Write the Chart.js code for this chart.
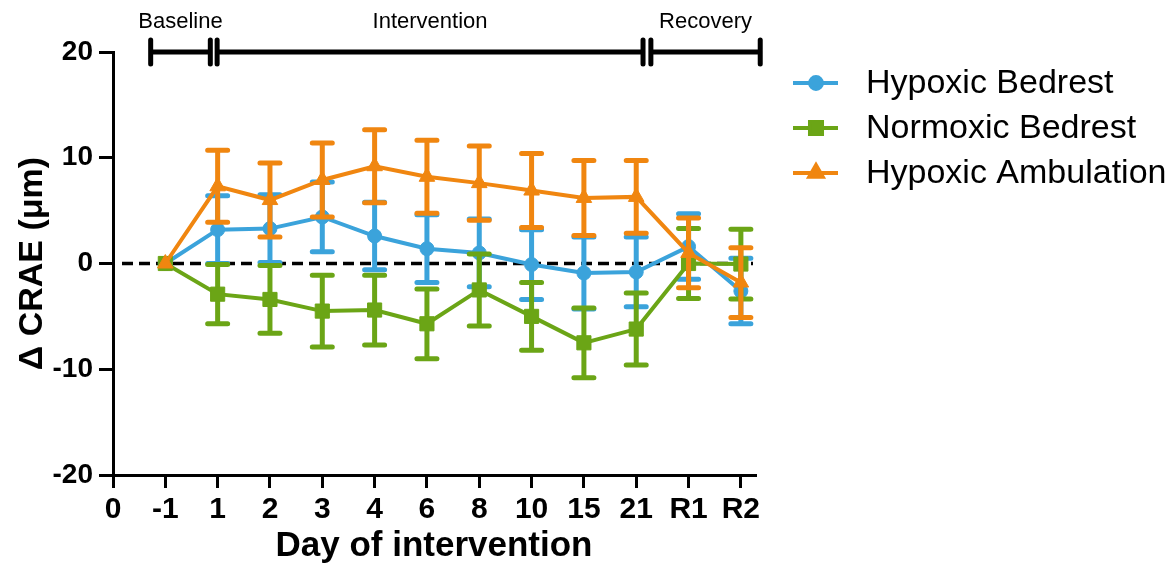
<!DOCTYPE html>
<html>
<head>
<meta charset="utf-8">
<script src="https://cdn.jsdelivr.net/npm/chart.js@4.4.1/dist/chart.umd.min.js"></script>
<style>
  html, body { margin: 0; padding: 0; background: #fff; }
  #wrap { width: 1173px; height: 574px; }
</style>
</head>
<body>
<div id="wrap"><canvas id="craeChart" width="1173" height="574"></canvas></div>
<script>
// x positions 0..12; position 0 is just the axis origin
const dayLabels = ['0', '-1', '1', '2', '3', '4', '6', '8', '10', '15', '21', 'R1', 'R2'];
const dayIndex = [1, 2, 3, 4, 5, 6, 7, 8, 9, 10, 11, 12];

// mean change from baseline and SEM, one entry per day in dayIndex
const hypoxicBedrest       = [0, 3.2, 3.3, 4.4, 2.6, 1.4, 1.0, -0.1, -0.9, -0.8, 1.6, -2.6];
const hypoxicBedrestSem    = [0, 3.2, 3.2, 3.3, 3.2, 3.2, 3.2, 3.3, 3.4, 3.3, 3.1, 3.1];
const normoxicBedrest      = [0, -2.9, -3.4, -4.5, -4.4, -5.7, -2.5, -5.0, -7.5, -6.2, 0.0, -0.05];
const normoxicBedrestSem   = [0, 2.8, 3.2, 3.4, 3.3, 3.3, 3.4, 3.2, 3.3, 3.4, 3.3, 3.3];
const hypoxicAmbulation    = [0, 7.3, 6.0, 7.9, 9.2, 8.2, 7.6, 6.9, 6.2, 6.3, 1.0, -1.8];
const hypoxicAmbulationSem = [0, 3.4, 3.5, 3.5, 3.45, 3.45, 3.5, 3.5, 3.55, 3.45, 3.3, 3.3];

const yTicks = [-20, -10, 0, 10, 20];

// study phases along the top, in x-axis units
const phaseNames = ['Baseline', 'Intervention', 'Recovery'];
const phaseStart = [0.72, 1.99, 10.28];
const phaseEnd   = [1.86, 10.13, 12.37];

const FONT = "'Liberation Sans', Arial, sans-serif";
const BLUE = '#3ba3db';
const GREEN = '#6ba516';
const ORANGE = '#f08610';

function points(values) {
    return values.map((v, i) => ({x: dayIndex[i], y: v}));
}

const errorBars = {
    id: 'errorBars',
    beforeDatasetDraw(chart, args) {
        const ds = chart.data.datasets[args.index];
        if (!ds.sem) return;
        const ctx = chart.ctx;
        const xs = chart.scales.x, ys = chart.scales.y;
        ctx.save();
        ctx.strokeStyle = ds.borderColor;
        ctx.lineWidth = 5;
        ctx.lineCap = 'round';
        ds.data.forEach((p, i) => {
            const e = ds.sem[i];
            if (!e) return;
            const px = xs.getPixelForValue(p.x);
            const top = ys.getPixelForValue(p.y + e);
            const bot = ys.getPixelForValue(p.y - e);
            ctx.beginPath();
            ctx.moveTo(px, top); ctx.lineTo(px, bot);
            ctx.moveTo(px - 10, top); ctx.lineTo(px + 10, top);
            ctx.moveTo(px - 10, bot); ctx.lineTo(px + 10, bot);
            ctx.stroke();
        });
        ctx.restore();
    }
};

const zeroLine = {
    id: 'zeroLine',
    beforeDatasetsDraw(chart) {
        const ctx = chart.ctx;
        const area = chart.chartArea;
        const y0 = chart.scales.y.getPixelForValue(0);
        ctx.save();
        ctx.strokeStyle = '#000';
        ctx.lineWidth = 3.5;
        ctx.setLineDash([11, 6]);
        ctx.beginPath();
        ctx.moveTo(area.left + 9, y0);
        ctx.lineTo(area.right - 2, y0);
        ctx.stroke();
        ctx.restore();
    }
};

const phaseBars = {
    id: 'phaseBars',
    afterDraw(chart) {
        const ctx = chart.ctx;
        const xs = chart.scales.x;
        const yb = chart.scales.y.getPixelForValue(20);
        ctx.save();
        ctx.strokeStyle = '#000';
        ctx.fillStyle = '#000';
        ctx.lineWidth = 5;
        ctx.lineCap = 'round';
        ctx.font = '22px ' + FONT;
        ctx.textAlign = 'center';
        ctx.textBaseline = 'middle';
        phaseNames.forEach((name, i) => {
            const a = xs.getPixelForValue(phaseStart[i]);
            const b = xs.getPixelForValue(phaseEnd[i]);
            ctx.beginPath();
            ctx.moveTo(a, yb); ctx.lineTo(b, yb);
            ctx.moveTo(a, yb - 12); ctx.lineTo(a, yb + 12);
            ctx.moveTo(b, yb - 12); ctx.lineTo(b, yb + 12);
            ctx.stroke();
            ctx.fillText(name, (a + b) / 2, yb - 30);
        });
        ctx.restore();
    }
};

const sideLegend = {
    id: 'sideLegend',
    afterDraw(chart) {
        const ctx = chart.ctx;
        const x0 = chart.chartArea.right + 38;
        ctx.save();
        chart.data.datasets.forEach((ds, i) => {
            const y = 83 + i * 45;
            ctx.strokeStyle = ds.borderColor;
            ctx.fillStyle = ds.borderColor;
            ctx.lineWidth = 4;
            ctx.beginPath();
            ctx.moveTo(x0, y); ctx.lineTo(x0 + 45, y);
            ctx.stroke();
            Chart.helpers.drawPoint(ctx, {
                pointStyle: ds.pointStyle, radius: ds.pointRadius * 0.85, rotation: 0, borderWidth: 1
            }, x0 + 23, y);
            ctx.fillStyle = '#000';
            ctx.font = '34px ' + FONT;
            ctx.textAlign = 'left';
            ctx.textBaseline = 'middle';
            ctx.fillText(ds.label, x0 + 73, y + 1);
        });
        ctx.restore();
    }
};

function series(label, values, sem, color, style, radius, order) {
    return {
        label: label,
        data: points(values),
        sem: sem,
        borderColor: color,
        backgroundColor: color,
        pointBackgroundColor: color,
        pointBorderColor: color,
        pointBorderWidth: 1,
        pointStyle: style,
        pointRadius: radius,
        borderWidth: 4,
        tension: 0,
        clip: false,
        order: order
    };
}

new Chart(document.getElementById('craeChart').getContext('2d'), {
    type: 'line',
    data: {
        datasets: [
            series('Hypoxic Bedrest', hypoxicBedrest, hypoxicBedrestSem, BLUE, 'circle', 7, 3),
            series('Normoxic Bedrest', normoxicBedrest, normoxicBedrestSem, GREEN, 'rect', 10, 2),
            series('Hypoxic Ambulation', hypoxicAmbulation, hypoxicAmbulationSem, ORANGE, 'triangle', 9, 1)
        ]
    },
    options: {
        responsive: false,
        animation: false,
        layout: {padding: {top: 52, right: 418, left: 0, bottom: 0}},
        plugins: {legend: {display: false}, tooltip: {enabled: false}},
        scales: {
            x: {
                type: 'linear',
                min: 0,
                max: 12.27,
                afterBuildTicks: s => { s.ticks = dayLabels.map((_, i) => ({value: i})); },
                afterFit: s => { s.height = 99; },
                ticks: {
                    includeBounds: false,
                    callback: v => dayLabels[v],
                    color: '#000',
                    padding: 4,
                    maxRotation: 0,
                    autoSkip: false,
                    font: {family: FONT, size: 30, weight: 'bold'}
                },
                grid: {drawOnChartArea: false, tickLength: 13, lineWidth: 3, color: '#000'},
                border: {color: '#000', width: 3},
                title: {
                    display: true,
                    text: 'Day of intervention',
                    color: '#000',
                    padding: {top: 0, bottom: 7},
                    font: {family: FONT, size: 35, weight: 'bold', lineHeight: 1.2}
                }
            },
            y: {
                min: -20,
                max: 20,
                afterBuildTicks: s => { s.ticks = yTicks.map(v => ({value: v})); },
                afterFit: s => { s.width = 113; },
                ticks: {
                    color: '#000',
                    padding: 6,
                    font: {family: FONT, size: 28, weight: 'bold'}
                },
                grid: {drawOnChartArea: false, tickLength: 14, lineWidth: 3, color: '#000'},
                border: {color: '#000', width: 3},
                title: {
                    display: true,
                    text: 'Δ CRAE (μm)',
                    color: '#000',
                    padding: {top: 12, bottom: 0},
                    font: {family: FONT, size: 34, weight: 'bold', lineHeight: 1.2}
                }
            }
        }
    },
    plugins: [zeroLine, errorBars, phaseBars, sideLegend]
});
</script>
</body>
</html>
